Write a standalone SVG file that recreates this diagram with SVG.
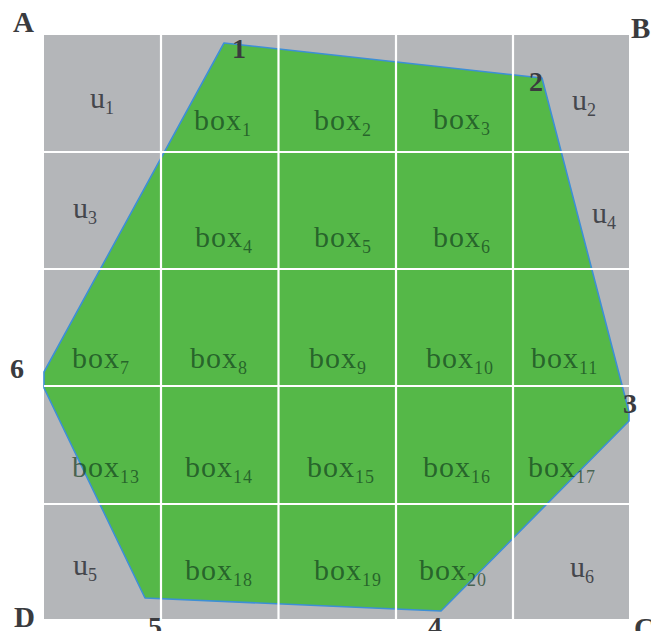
<svg xmlns="http://www.w3.org/2000/svg" width="651" height="631" viewBox="0 0 651 631">
<style>
.bx{font-family:"Liberation Serif",serif;font-size:30px;letter-spacing:1px;fill:#103a1c;fill-opacity:0.68}
.u{font-family:"Liberation Serif",serif;font-size:30px;fill:#45474d}
.sub{font-size:18px}
.pt{font-family:"Liberation Serif",serif;font-size:28px;font-weight:bold;fill:#3a3b3e;text-anchor:middle}
.corner{font-family:"Liberation Serif",serif;font-size:29px;font-weight:bold;fill:#3a3b3e}
.grid line{stroke:#ffffff;stroke-width:2.2}
</style>
<rect width="651" height="631" fill="#ffffff"/>
<g id="background">
<rect x="44" y="35" width="585" height="584" fill="#b4b6b9"/>
</g>
<g id="polygon">
<polygon points="224,43 542,78 629,412 629,421 441,611 145,598 44,388 44,372" fill="#55b848" stroke="#3d8fd6" stroke-width="1.6" stroke-linejoin="round"/>
</g>
<g id="grid" class="grid">
<line x1="161" y1="35" x2="161" y2="619"/>
<line x1="278.5" y1="35" x2="278.5" y2="619"/>
<line x1="396" y1="35" x2="396" y2="619"/>
<line x1="513" y1="35" x2="513" y2="619"/>
<line x1="44" y1="152" x2="629" y2="152"/>
<line x1="44" y1="269" x2="629" y2="269"/>
<line x1="44" y1="386" x2="629" y2="386"/>
<line x1="44" y1="504" x2="629" y2="504"/>
</g>
<g id="corners">
<text class="corner" x="13" y="32">A</text>
<text class="corner" x="631" y="38">B</text>
<text class="corner" x="634" y="638">C</text>
<text class="corner" x="14" y="627">D</text>
</g>
<g id="vertices">
<text class="pt" x="239" y="58">1</text>
<text class="pt" x="536" y="91">2</text>
<text class="pt" x="630" y="413">3</text>
<text class="pt" x="435" y="636">4</text>
<text class="pt" x="155" y="636">5</text>
<text class="pt" x="17" y="378">6</text>
</g>
<g id="u-labels">
<text class="u" x="90" y="108">u<tspan class="sub" dy="6">1</tspan></text>
<text class="u" x="572" y="110">u<tspan class="sub" dy="6">2</tspan></text>
<text class="u" x="73" y="218">u<tspan class="sub" dy="6">3</tspan></text>
<text class="u" x="592" y="223">u<tspan class="sub" dy="6">4</tspan></text>
<text class="u" x="73" y="575">u<tspan class="sub" dy="6">5</tspan></text>
<text class="u" x="570" y="577">u<tspan class="sub" dy="6">6</tspan></text>
</g>
<g id="box-labels">
<text class="bx" x="194" y="130">box<tspan class="sub" dy="6">1</tspan></text>
<text class="bx" x="314" y="130">box<tspan class="sub" dy="6">2</tspan></text>
<text class="bx" x="433" y="129">box<tspan class="sub" dy="6">3</tspan></text>
<text class="bx" x="195" y="247">box<tspan class="sub" dy="6">4</tspan></text>
<text class="bx" x="314" y="247">box<tspan class="sub" dy="6">5</tspan></text>
<text class="bx" x="433" y="247">box<tspan class="sub" dy="6">6</tspan></text>
<text class="bx" x="72" y="368">box<tspan class="sub" dy="6">7</tspan></text>
<text class="bx" x="190" y="368">box<tspan class="sub" dy="6">8</tspan></text>
<text class="bx" x="309" y="368">box<tspan class="sub" dy="6">9</tspan></text>
<text class="bx" x="426" y="368">box<tspan class="sub" dy="6">10</tspan></text>
<text class="bx" x="531" y="368">box<tspan class="sub" dy="6">11</tspan></text>
<text class="bx" x="72" y="477">box<tspan class="sub" dy="6">13</tspan></text>
<text class="bx" x="185" y="477">box<tspan class="sub" dy="6">14</tspan></text>
<text class="bx" x="307" y="477">box<tspan class="sub" dy="6">15</tspan></text>
<text class="bx" x="423" y="477">box<tspan class="sub" dy="6">16</tspan></text>
<text class="bx" x="528" y="477">box<tspan class="sub" dy="6">17</tspan></text>
<text class="bx" x="185" y="580">box<tspan class="sub" dy="6">18</tspan></text>
<text class="bx" x="314" y="580">box<tspan class="sub" dy="6">19</tspan></text>
<text class="bx" x="419" y="580">box<tspan class="sub" dy="6">20</tspan></text>
</g>
</svg>
